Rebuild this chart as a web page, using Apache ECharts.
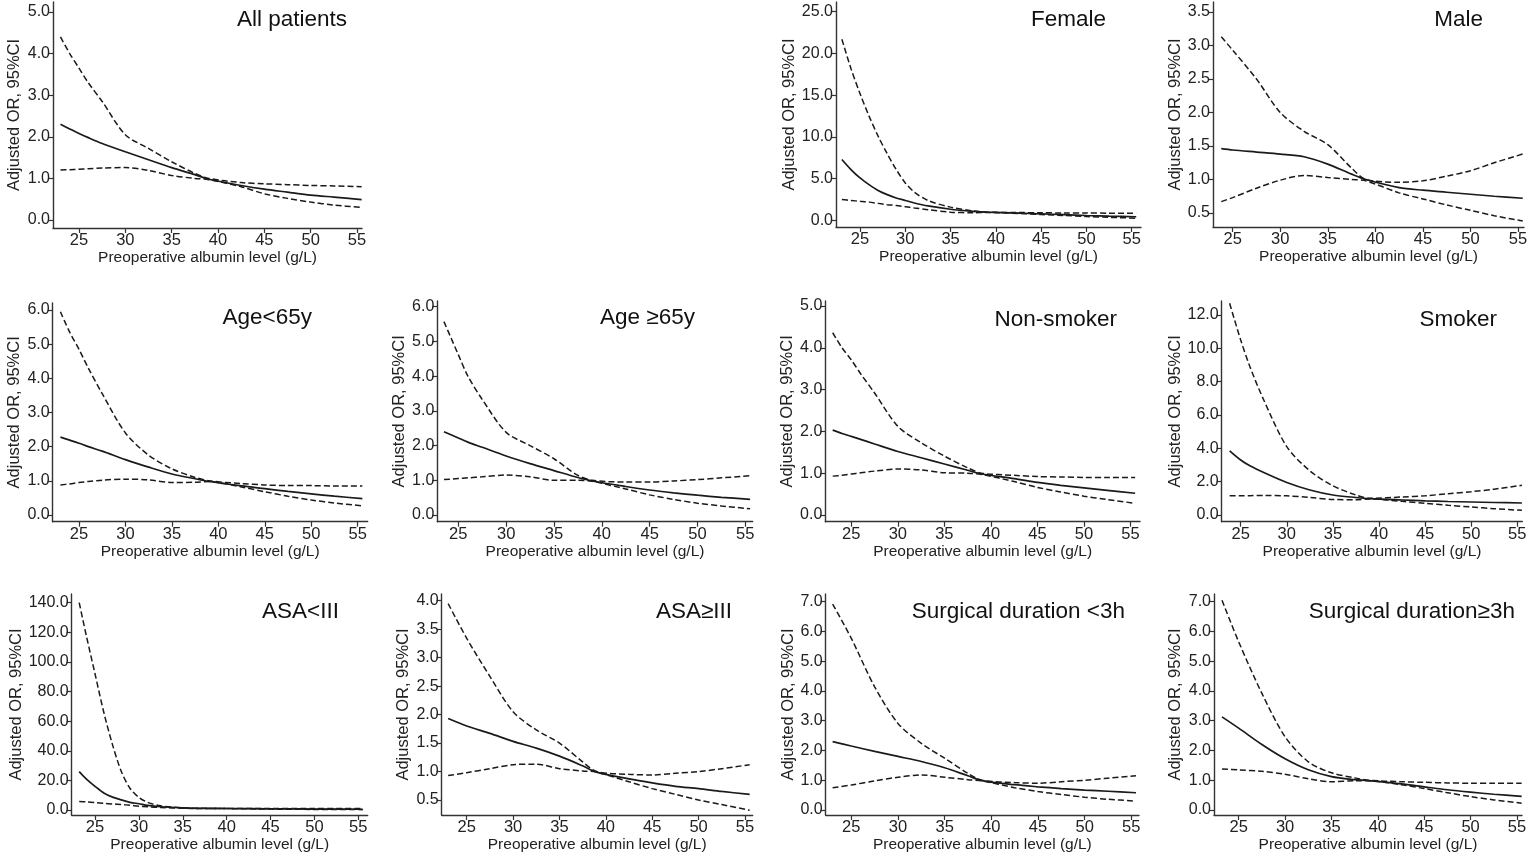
<!DOCTYPE html>
<html>
<head>
<meta charset="utf-8">
<title>Adjusted OR by preoperative albumin level</title>
<script src="https://cdn.jsdelivr.net/npm/echarts@6.0.0/dist/echarts.min.js"></script>
<style>
    html, body { margin: 0; padding: 0; background: #fff; }
    #container { width: 1535px; height: 860px; }
</style>
</head>
<body>
<div id="container"></div>
<script type="text/javascript">
    // ---- data: albumin (g/L), adjusted OR, upper and lower 95% CI ----
    var xTicks = [25, 30, 35, 40, 45, 50, 55];

    var allX  = [23, 24, 25, 26, 27.5, 30, 32.5, 35, 37.5, 39, 42.5, 45, 47.5, 50, 52.5, 55.5];
    var allOR = [2.30, 2.19, 2.08, 1.98, 1.84, 1.64, 1.45, 1.26, 1.09, 0.98, 0.83, 0.74, 0.67, 0.60, 0.55, 0.49];
    var allUp = [4.40, 4.00, 3.65, 3.30, 2.85, 2.05, 1.72, 1.40, 1.12, 1.00, 0.90, 0.87, 0.85, 0.83, 0.82, 0.80];
    var allLo = [1.20, 1.21, 1.22, 1.23, 1.25, 1.26, 1.19, 1.07, 1.00, 0.97, 0.80, 0.63, 0.52, 0.43, 0.36, 0.30];
    var allYT = [0, 1, 2, 3, 4, 5];

    var femX  = [23, 24, 25, 26, 27, 28, 29, 30, 31, 32.5, 35, 37.5, 39, 42.5, 45, 47.5, 50, 52.5, 55.5];
    var femOR = [7.3, 6.1, 5.1, 4.3, 3.6, 3.1, 2.7, 2.4, 2.1, 1.75, 1.35, 1.1, 1.0, 0.88, 0.8, 0.7, 0.6, 0.52, 0.45];
    var femUp = [21.7, 18.2, 15.2, 12.5, 10.1, 8.0, 6.1, 4.5, 3.4, 2.4, 1.6, 1.15, 1.0, 0.95, 0.93, 0.9, 0.9, 0.88, 0.86];
    var femLo = [2.5, 2.4, 2.3, 2.2, 2.05, 1.9, 1.8, 1.65, 1.5, 1.3, 1.0, 0.93, 0.97, 0.85, 0.72, 0.6, 0.48, 0.38, 0.28];
    var femYT = [0, 5, 10, 15, 20, 25];

    var maleX  = [23.8, 25, 27.5, 30, 32.5, 35, 37.5, 39, 42.5, 45, 47.5, 50, 52.5, 55.5];
    var maleOR = [1.46, 1.44, 1.41, 1.38, 1.34, 1.23, 1.08, 1.00, 0.88, 0.84, 0.81, 0.78, 0.75, 0.72];
    var maleUp = [3.13, 2.93, 2.50, 2.00, 1.72, 1.52, 1.17, 1.00, 0.96, 0.98, 1.05, 1.13, 1.25, 1.38];
    var maleLo = [0.67, 0.73, 0.87, 0.99, 1.06, 1.03, 1.00, 0.98, 0.80, 0.71, 0.62, 0.54, 0.46, 0.38];
    var maleYT = [0.5, 1, 1.5, 2, 2.5, 3, 3.5];

    var youngX  = [23, 24, 25, 26, 27.5, 30, 32.5, 35, 37.5, 39, 42.5, 45, 47.5, 50, 52.5, 55.5];
    var youngOR = [2.28, 2.19, 2.10, 2.00, 1.87, 1.62, 1.40, 1.20, 1.06, 0.98, 0.85, 0.77, 0.69, 0.62, 0.55, 0.48];
    var youngUp = [5.95, 5.35, 4.85, 4.30, 3.55, 2.40, 1.75, 1.35, 1.10, 1.00, 0.92, 0.88, 0.86, 0.86, 0.85, 0.85];
    var youngLo = [0.88, 0.91, 0.95, 0.98, 1.02, 1.05, 1.03, 0.95, 0.96, 0.98, 0.82, 0.68, 0.55, 0.44, 0.35, 0.27];
    var youngYT = [0, 1, 2, 3, 4, 5, 6];

    var oldX  = [23.5, 25, 26, 27.5, 30, 32.5, 35, 37.5, 39, 42.5, 45, 47.5, 50, 52.5, 55.5];
    var oldOR = [2.40, 2.22, 2.10, 1.95, 1.70, 1.48, 1.28, 1.08, 0.98, 0.82, 0.72, 0.64, 0.57, 0.51, 0.45];
    var oldUp = [5.57, 4.62, 4.00, 3.33, 2.38, 2.00, 1.62, 1.14, 1.00, 0.95, 0.95, 0.98, 1.02, 1.07, 1.13];
    var oldLo = [1.02, 1.05, 1.07, 1.10, 1.15, 1.10, 1.00, 1.00, 0.97, 0.75, 0.58, 0.45, 0.34, 0.26, 0.18];
    var oldYT = [0, 1, 2, 3, 4, 5, 6];

    var nsX  = [23, 24, 25, 26, 27.5, 30, 32.5, 35, 37.5, 39, 42.5, 45, 47.5, 50, 52.5, 55.5];
    var nsOR = [2.03, 1.95, 1.88, 1.81, 1.70, 1.52, 1.37, 1.22, 1.07, 0.98, 0.87, 0.78, 0.71, 0.65, 0.59, 0.52];
    var nsUp = [4.36, 4.00, 3.71, 3.38, 2.92, 2.12, 1.73, 1.41, 1.13, 1.00, 0.95, 0.92, 0.91, 0.90, 0.90, 0.90];
    var nsLo = [0.93, 0.95, 0.98, 1.01, 1.05, 1.10, 1.08, 1.01, 1.00, 0.97, 0.80, 0.66, 0.55, 0.45, 0.37, 0.28];
    var nsYT = [0, 1, 2, 3, 4, 5];

    var smX  = [23.8, 25, 26, 27.5, 30, 32.5, 35, 37.5, 39, 42.5, 45, 47.5, 50, 52.5, 55.5];
    var smOR = [3.85, 3.30, 2.95, 2.55, 1.95, 1.50, 1.20, 1.05, 0.98, 0.90, 0.85, 0.81, 0.78, 0.75, 0.72];
    var smUp = [12.7, 10.5, 8.9, 6.9, 4.1, 2.65, 1.75, 1.2, 1.0, 1.08, 1.15, 1.28, 1.4, 1.55, 1.78];
    var smLo = [1.15, 1.15, 1.16, 1.17, 1.15, 1.05, 0.93, 0.92, 0.96, 0.82, 0.70, 0.58, 0.48, 0.38, 0.28];
    var smYT = [0, 2, 4, 6, 8, 10, 12];

    var asaLowX  = [23.2, 24, 25, 26, 27, 28, 29, 30, 31, 32.5, 35, 37.5, 40, 45, 50, 55.5];
    var asaLowOR = [25.9, 21, 16, 11.5, 8.7, 6.8, 5.2, 4.2, 3.1, 2.2, 1.5, 1.15, 1.0, 0.8, 0.62, 0.5];
    var asaLowUp = [140, 118, 92, 66, 44, 26, 14.5, 8.5, 5.2, 2.8, 1.5, 1.1, 1.0, 0.95, 0.95, 1.0];
    var asaLowLo = [5.8, 5.5, 5.0, 4.5, 4.1, 3.7, 3.2, 2.6, 2.2, 1.7, 1.2, 1.0, 0.95, 0.6, 0.4, 0.25];
    var asaLowYT = [0, 20, 40, 60, 80, 100, 120, 140];

    var asaHighX  = [23, 25, 27.5, 30, 32.5, 35, 37.5, 39, 42.5, 45, 47.5, 50, 52.5, 55.5];
    var asaHighOR = [1.93, 1.80, 1.67, 1.53, 1.41, 1.27, 1.10, 0.99, 0.87, 0.80, 0.74, 0.70, 0.65, 0.60];
    var asaHighUp = [3.95, 3.34, 2.67, 2.05, 1.73, 1.50, 1.17, 1.00, 0.95, 0.94, 0.97, 1.00, 1.05, 1.12];
    var asaHighLo = [0.93, 0.98, 1.05, 1.12, 1.13, 1.05, 1.01, 0.99, 0.82, 0.70, 0.60, 0.50, 0.42, 0.32];
    var asaHighYT = [0.5, 1, 1.5, 2, 2.5, 3, 3.5, 4];

    var shortX  = [23, 25, 27.5, 30, 32.5, 35, 37.5, 39, 42.5, 45, 47.5, 50, 52.5, 55.5];
    var shortOR = [2.30, 2.15, 1.97, 1.80, 1.63, 1.42, 1.15, 0.99, 0.85, 0.78, 0.72, 0.67, 0.63, 0.58];
    var shortUp = [6.92, 5.77, 4.14, 2.91, 2.24, 1.74, 1.23, 1.00, 0.92, 0.90, 0.95, 1.00, 1.07, 1.15];
    var shortLo = [0.75, 0.84, 0.98, 1.10, 1.18, 1.10, 1.02, 0.98, 0.75, 0.62, 0.52, 0.43, 0.36, 0.30];
    var shortYT = [0, 1, 2, 3, 4, 5, 6, 7];

    var longX  = [23.2, 25, 27.5, 30, 32.5, 35, 37.5, 39, 42.5, 45, 47.5, 50, 52.5, 55.5];
    var longOR = [3.13, 2.75, 2.20, 1.72, 1.35, 1.12, 1.02, 0.99, 0.88, 0.78, 0.68, 0.60, 0.53, 0.46];
    var longUp = [7.05, 5.65, 3.92, 2.46, 1.62, 1.25, 1.08, 1.00, 0.95, 0.93, 0.91, 0.90, 0.90, 0.90];
    var longLo = [1.38, 1.35, 1.30, 1.20, 1.05, 0.95, 0.98, 0.98, 0.85, 0.72, 0.58, 0.45, 0.34, 0.23];
    var longYT = [0, 1, 2, 3, 4, 5, 6, 7];

    var panels = [
        {title: 'All patients', x: allX, or: allOR, up: allUp, lo: allLo, yt: allYT},
        {title: 'Female', x: femX, or: femOR, up: femUp, lo: femLo, yt: femYT},
        {title: 'Male', x: maleX, or: maleOR, up: maleUp, lo: maleLo, yt: maleYT},
        {title: 'Age<65y', x: youngX, or: youngOR, up: youngUp, lo: youngLo, yt: youngYT},
        {title: 'Age \u226565y', x: oldX, or: oldOR, up: oldUp, lo: oldLo, yt: oldYT},
        {title: 'Non-smoker', x: nsX, or: nsOR, up: nsUp, lo: nsLo, yt: nsYT},
        {title: 'Smoker', x: smX, or: smOR, up: smUp, lo: smLo, yt: smYT},
        {title: 'ASA<III', x: asaLowX, or: asaLowOR, up: asaLowUp, lo: asaLowLo, yt: asaLowYT},
        {title: 'ASA\u2265III', x: asaHighX, or: asaHighOR, up: asaHighUp, lo: asaHighLo, yt: asaHighYT},
        {title: 'Surgical duration <3h', x: shortX, or: shortOR, up: shortUp, lo: shortLo, yt: shortYT},
        {title: 'Surgical duration\u22653h', x: longX, or: longOR, up: longUp, lo: longLo, yt: longYT}
    ];

    // ---- layout (pixels): axis box, pixel of first/last x tick, pixel of first/last y tick ----
    var layout = [
        {L: 53,    R: 362,    T: 2,   B: 228,   x25: 79,     x55: 357,    yp0: 220,   yp1: 12,    tr: 347,  tt: 8,   gap: 30},
        {L: 836,   R: 1141,   T: 2,   B: 227,   x25: 860,    x55: 1131.7, yp0: 220.5, yp1: 11.7,  tr: 1106, tt: 8,   gap: 38},
        {L: 1213,  R: 1524,   T: 2,   B: 227,   x25: 1232.7, x55: 1518,   yp0: 213,   yp1: 12,    tr: 1483, tt: 8,   gap: 29},
        {L: 52.7,  R: 367.7,  T: 303, B: 521.7, x25: 79,     x55: 357.7,  yp0: 515,   yp1: 310,   tr: 312,  tt: 306, gap: 30},
        {L: 437.3, R: 752.7,  T: 301, B: 521.7, x25: 458.3,  x55: 745.3,  yp0: 515,   yp1: 306.7, tr: 695,  tt: 306, gap: 28},
        {L: 825.3, R: 1140,   T: 301, B: 521.7, x25: 851.3,  x55: 1130.5, yp0: 515,   yp1: 306,   tr: 1117, tt: 308, gap: 27},
        {L: 1221.7, R: 1522.3, T: 301, B: 521.7, x25: 1240.7, x55: 1517.3, yp0: 515,  yp1: 315,   tr: 1497, tt: 308, gap: 37},
        {L: 71.7,  R: 367.7,  T: 594, B: 815,   x25: 95,     x55: 358.3,  yp0: 810,   yp1: 602.7, tr: 339,  tt: 600, gap: 47},
        {L: 441.7, R: 752.7,  T: 594, B: 815,   x25: 466.7,  x55: 745,    yp0: 800,   yp1: 600.7, tr: 732,  tt: 600, gap: 30},
        {L: 825.7, R: 1139,   T: 594, B: 815,   x25: 851.3,  x55: 1131.3, yp0: 810,   yp1: 601.7, tr: 1125, tt: 600, gap: 28},
        {L: 1214,  R: 1522,   T: 594, B: 815,   x25: 1238.7, x55: 1517,   yp0: 810,   yp1: 601.7, tr: 1515, tt: 600, gap: 30}
    ];

    var W = 1535;
    var ink = '#1a1a1a';
    var font = "'Liberation Sans', Arial, sans-serif";

    function pairs(xs, ys) {
        var out = [];
        for (var i = 0; i < xs.length; i++) out.push([xs[i], ys[i]]);
        return out;
    }

    var grids = [], xAxes = [], yAxes = [], series = [], titles = [];

    panels.forEach(function (p, i) {
        var g = layout[i];
        var v0 = p.yt[0], v1 = p.yt[p.yt.length - 1];
        var ppx = (g.x55 - g.x25) / 30;
        var ppy = (g.yp0 - g.yp1) / (v1 - v0);

        grids.push({left: g.L, top: g.T, width: g.R - g.L, height: g.B - g.T});

        xAxes.push({
            type: 'value', gridIndex: i,
            min: 25 - (g.x25 - g.L) / ppx,
            max: 55 + (g.R - g.x55) / ppx,
            axisLine: {show: true, onZero: false, lineStyle: {color: '#333', width: 1.4}},
            axisTick: {show: true, length: 5, customValues: xTicks, lineStyle: {color: '#333', width: 1.2}},
            axisLabel: {customValues: xTicks, fontSize: 16.5, color: '#222', margin: 4, fontFamily: font},
            splitLine: {show: false},
            name: 'Preoperative albumin level (g/L)',
            nameLocation: 'middle', nameGap: 21,
            nameTextStyle: {fontSize: 15.5, color: '#222', fontFamily: font}
        });

        yAxes.push({
            type: 'value', gridIndex: i,
            min: v0 - (g.B - g.yp0) / ppy,
            max: v1 + (g.yp1 - g.T) / ppy,
            axisLine: {show: true, onZero: false, lineStyle: {color: '#333', width: 1.4}},
            axisTick: {show: true, length: 5, customValues: p.yt, lineStyle: {color: '#333', width: 1.2}},
            axisLabel: {
                customValues: p.yt, fontSize: 16, color: '#222', margin: 3, fontFamily: font,
                formatter: function (v) { return Number(v).toFixed(1); }
            },
            splitLine: {show: false},
            name: 'Adjusted OR, 95%CI',
            nameLocation: 'middle', nameGap: g.gap, nameRotate: 90,
            nameTextStyle: {fontSize: 16.5, color: '#222', fontFamily: font}
        });

        titles.push({
            text: p.title, right: W - g.tr, top: g.tt, padding: 0,
            textStyle: {fontSize: 22.5, fontWeight: 'normal', color: '#111', fontFamily: font}
        });

        var base = {
            type: 'line', xAxisIndex: i, yAxisIndex: i, showSymbol: false,
            smooth: 0.3, silent: true
        };
        series.push(Object.assign({}, base, {
            data: pairs(p.x, p.up), lineStyle: {color: ink, width: 1.5, type: [6, 3]}
        }));
        series.push(Object.assign({}, base, {
            data: pairs(p.x, p.lo), lineStyle: {color: ink, width: 1.5, type: [6, 3]}
        }));
        series.push(Object.assign({}, base, {
            data: pairs(p.x, p.or), lineStyle: {color: ink, width: 1.7, type: 'solid'}
        }));
    });

    var dom = document.getElementById('container');
    var myChart = echarts.init(dom);

    var option = {
        animation: false,
        backgroundColor: '#fff',
        title: titles,
        grid: grids,
        xAxis: xAxes,
        yAxis: yAxes,
        series: series
    };

    myChart.setOption(option, true);
</script>
</body>
</html>
